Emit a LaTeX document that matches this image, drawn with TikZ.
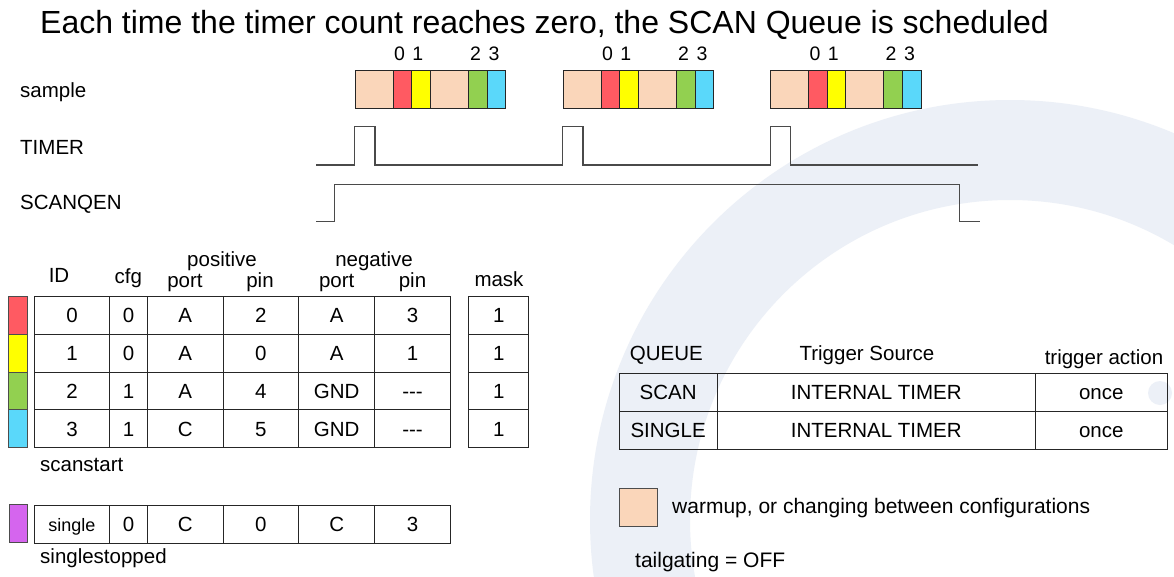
\documentclass[tikz,border=0pt]{standalone}
\usepackage{fontspec}
\setmainfont{Liberation Sans}
\definecolor{peach}{HTML}{FAD6BA}
\definecolor{sred}{HTML}{FF5A62}
\definecolor{syel}{HTML}{FFFF00}
\definecolor{sgrn}{HTML}{92D050}
\definecolor{sblu}{HTML}{5AD8FA}
\definecolor{spur}{HTML}{D565EE}
\definecolor{wm}{HTML}{ECF0F7}
\definecolor{wavec}{HTML}{4A4A4A}
\newcommand\tdash{-{}-{}-}
\begin{document}
\begin{tikzpicture}[x=1pt,y=-1pt,
  txt/.style={inner sep=0pt, font=\fontsize{20.5}{24}\selectfont},
  small/.style={inner sep=0pt, font=\fontsize{19.5}{22}\selectfont},
  title/.style={inner sep=0pt, font=\fontsize{32}{36}\selectfont},
  cell/.style={draw=black!85, line width=1pt, inner sep=0pt, outer sep=0pt, minimum height=37.7pt, text height=14.7pt, text depth=0pt, font=\fontsize{20.5}{24}\selectfont},
  seg/.style={draw=black!85, line width=1pt, inner sep=0pt, outer sep=0pt, minimum height=37.6pt},
  bar/.style={draw=black!70, line width=1pt, inner sep=0pt, outer sep=0pt, minimum width=18.5pt, minimum height=37.7pt},
  sig/.style={draw=wavec, line width=1.4pt}
]
\useasboundingbox (0,0) rectangle (1174,576);
\fill[white] (0,0) rectangle (1174,576);

% faint watermark
\begin{scope}
\clip (0,0) rectangle (1174,576);
\fill[wm, even odd rule] (1010,520) circle (420) (1010,520) circle (320);
\fill[wm] (1160,393) circle (12);
\end{scope}

% title
\node[title, anchor=base west] (ttl) at (40,33.5) {Each time the timer count reaches zero, the SCAN Queue is scheduled};

% left labels
\node[txt, anchor=west] (lsample) at (20,92) {sample};
\node[txt, anchor=west] (ltimer) at (20,147) {TIMER};
\node[txt, anchor=west] (lscan) at (20,204) {SCANQEN};

% sample groups
\foreach \g [count=\k] in {355,563,770.5} {
  \node[seg, fill=peach, minimum width=38pt]   (s\k-a) at (\g+19,89.5) {};
  \node[seg, fill=sred,  minimum width=18.7pt] (s\k-b) at (\g+47.35,89.5) {};
  \node[seg, fill=syel,  minimum width=18.7pt] (s\k-c) at (\g+66.05,89.5) {};
  \node[seg, fill=peach, minimum width=38pt]   (s\k-d) at (\g+94.4,89.5) {};
  \node[seg, fill=sgrn,  minimum width=18.7pt] (s\k-e) at (\g+122.75,89.5) {};
  \node[seg, fill=sblu,  minimum width=18.7pt] (s\k-f) at (\g+141.45,89.5) {};
  \node[small] (n\k-0) at (\g+44.5,54) {0};
  \node[small] (n\k-1) at (\g+62.8,54) {1};
  \node[small] (n\k-2) at (\g+120.5,54) {2};
  \node[small] (n\k-3) at (\g+139,54) {3};
}

% TIMER waveform
\draw[sig] (316,165) -- (354.5,165) -- (354.5,126.7) -- (375,126.7) -- (375,165)
  -- (562.5,165) -- (562.5,126.7) -- (583,126.7) -- (583,165)
  -- (770.5,165) -- (770.5,126.7) -- (790.5,126.7) -- (790.5,165) -- (978,165);
% SCANQEN waveform
\draw[sig] (316,221.7) -- (334.3,221.7) -- (334.3,184.3) -- (959.3,184.3) -- (959.3,221.7) -- (980,221.7);

% table headers
\node[txt, anchor=base] (hid) at (59,282.3) {ID};
\node[txt, anchor=base] (hcfg) at (128.3,283.5) {cfg};
\node[txt, anchor=base] (hpos) at (222,266) {positive};
\node[txt, anchor=base] (hpport) at (185,287.3) {port};
\node[txt, anchor=base] (hppin) at (260,287.3) {pin};
\node[txt, anchor=base] (hneg) at (374,266) {negative};
\node[txt, anchor=base] (hnport) at (336.7,287.3) {port};
\node[txt, anchor=base] (hnpin) at (412.5,287.3) {pin};
\node[txt, anchor=base] (hmask) at (499,286) {mask};

% main table
\foreach \yy/\vA/\vB/\vC/\vD/\vE/\vF/\cc [count=\r] in {
  315.6/0/0/A/2/A/3/sred,
  353.3/1/0/A/0/A/1/syel,
  391.1/2/1/A/4/GND/\tdash/sgrn,
  428.8/3/1/C/5/GND/\tdash/sblu} {
  \node[bar, fill=\cc] (bar\r) at (18.2,\yy) {};
  \node[cell, minimum width=75.4pt] (t\r-1) at (72,\yy) {\vA};
  \node[cell, minimum width=37.6pt] (t\r-2) at (128.5,\yy) {\vB};
  \node[cell, minimum width=75.7pt] (t\r-3) at (185.15,\yy) {\vC};
  \node[cell, minimum width=75.7pt] (t\r-4) at (260.85,\yy) {\vD};
  \node[cell, minimum width=76pt]   (t\r-5) at (336.7,\yy) {\vE};
  \node[cell, minimum width=75.6pt] (t\r-6) at (412.5,\yy) {\vF};
  \node[cell, minimum width=60pt]   (m\r) at (498.7,\yy) {1};
}
\node[txt, anchor=west] (lscanstart) at (40,465) {scanstart};

% single row
\node[bar, fill=spur, minimum height=37.6pt] (barS) at (18.3,523.5) {};
\node[cell, minimum width=75.4pt, minimum height=38.3pt, font=\fontsize{18}{20}\selectfont] (u1) at (72,524.15) {single};
\node[cell, minimum width=37.6pt, minimum height=38.3pt] (u2) at (128.5,524.15) {0};
\node[cell, minimum width=75.7pt, minimum height=38.3pt] (u3) at (185.15,524.15) {C};
\node[cell, minimum width=75.7pt, minimum height=38.3pt] (u4) at (260.85,524.15) {0};
\node[cell, minimum width=76pt,   minimum height=38.3pt] (u5) at (336.7,524.15) {C};
\node[cell, minimum width=75.6pt, minimum height=38.3pt] (u6) at (412.5,524.15) {3};
\node[txt, anchor=west] (lsinglestopped) at (40,558) {singlestopped};

% queue table
\node[txt, anchor=base] (qh1) at (666.3,360) {QUEUE};
\node[txt, anchor=base] (qh2) at (867,360) {Trigger Source};
\node[txt, anchor=base] (qh3) at (1104,364.5) {trigger action};
\node[cell, minimum width=98.3pt, minimum height=38.4pt] (q1-1) at (668.15,392.5) {SCAN};
\node[cell, minimum width=318pt,  minimum height=38.4pt] (q1-2) at (876.3,392.5) {INTERNAL TIMER};
\node[cell, minimum width=132pt,  minimum height=38.4pt] (q1-3) at (1101.3,392.5) {once};
\node[cell, minimum width=98.3pt, minimum height=37.6pt] (q2-1) at (668.15,430.5) {SINGLE};
\node[cell, minimum width=318pt,  minimum height=37.6pt] (q2-2) at (876.3,430.5) {INTERNAL TIMER};
\node[cell, minimum width=132pt,  minimum height=37.6pt] (q2-3) at (1101.3,430.5) {once};

% legend
\node[draw=black!70, line width=1pt, fill=peach, inner sep=0pt, minimum width=38pt, minimum height=38.5pt] (leg) at (638,507.5) {};
\node[txt, anchor=west, font=\fontsize{21}{24}\selectfont] (legt) at (672,508) {warmup, or changing between configurations};
\node[txt, anchor=west, font=\fontsize{21}{24}\selectfont] (tail) at (635,562) {tailgating = OFF};
\end{tikzpicture}
\end{document}
